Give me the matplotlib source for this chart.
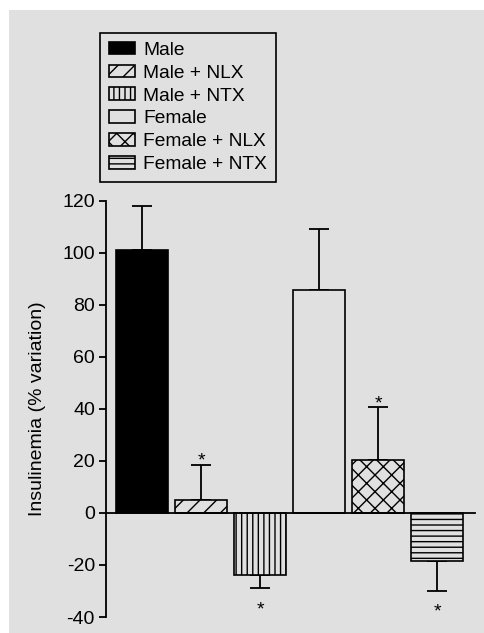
import matplotlib
matplotlib.use("Agg")
import matplotlib.pyplot as plt
from matplotlib.patches import Rectangle

groups = ["Male", "Male + NLX", "Male + NTX", "Female", "Female + NLX", "Female + NTX"]
means = [101, 4.8, -24, 85.5, 20.2, -18.5]
errors = [17, 13.8, 5, 23.5, 20.5, 11.5]
signif = [False, True, True, False, True, True]
ticks = [-40, -20, 0, 20, 40, 60, 80, 100, 120]

bg = "#e0e0e0"
colors = ["black", bg, bg, bg, bg, bg]
hatches = [None, "//", "|||", None, "xx", "---"]

plt.rcParams["font.family"] = ["Liberation Sans", "DejaVu Sans"]
plt.rcParams["axes.unicode_minus"] = False
plt.rcParams["hatch.linewidth"] = 1.0
plt.rcParams["hatch.color"] = "black"

fig = plt.figure(figsize=(4.85, 6.33), dpi=100, facecolor="white")
fig.patches.append(Rectangle((9/485, 0), 1, 1 - 10/633, transform=fig.transFigure,
                             facecolor=bg, edgecolor="none", zorder=-10))
ax = fig.add_axes([106/485, 1 - 617/633, (475 - 106)/485, (617 - 200.7)/633])
ax.set_facecolor("none")

x = list(range(len(groups)))
bars = []
for i in x:
	b = ax.bar(i, means[i], width=0.88, color=colors[i], edgecolor="black",
	           linewidth=1.2, hatch=hatches[i], label=groups[i], zorder=2)
	bars.append(b)
	if means[i] >= 0:
		yerr = [[0], [errors[i]]]
	else:
		yerr = [[errors[i]], [0]]
	ax.errorbar(i, means[i], yerr=yerr, fmt="none", ecolor="black",
	            elinewidth=1.3, capsize=7, capthick=1.3, zorder=1)
	if signif[i]:
		if means[i] >= 0:
			ax.text(i, means[i] + errors[i] - 2, "*", ha="center", va="bottom", fontsize=14)
		else:
			ax.text(i, means[i] - errors[i] - 11.5, "*", ha="center", va="bottom", fontsize=14)

ax.set_xlim(-0.61, 5.64)
ax.set_ylim(-40, 120)
ax.set_yticks(ticks)
ax.set_xticks([])
ax.spines["top"].set_visible(False)
ax.spines["right"].set_visible(False)
ax.spines["bottom"].set_position(("data", 0))
ax.spines["left"].set_linewidth(1.3)
ax.spines["bottom"].set_linewidth(1.3)
ax.tick_params(axis="y", direction="out", length=5, width=1.3, labelsize=14, pad=3)
ax.set_ylabel("Insulinemia (% variation)", fontsize=14)
ax.yaxis.set_label_coords(-0.163, 0.5)

leg = fig.legend(handles=[b[0] for b in bars], labels=groups, loc="upper left",
                 bbox_to_anchor=(100/485, 1 - 33/633), borderaxespad=0,
                 fontsize=13.8, frameon=True, fancybox=False, edgecolor="black",
                 facecolor=bg, framealpha=1, handlelength=1.35, handleheight=0.65,
                 handletextpad=0.45, labelspacing=0.3, borderpad=0.45)
leg.get_frame().set_linewidth(1.2)

fig.savefig("out.png", dpi=100, facecolor="white")
